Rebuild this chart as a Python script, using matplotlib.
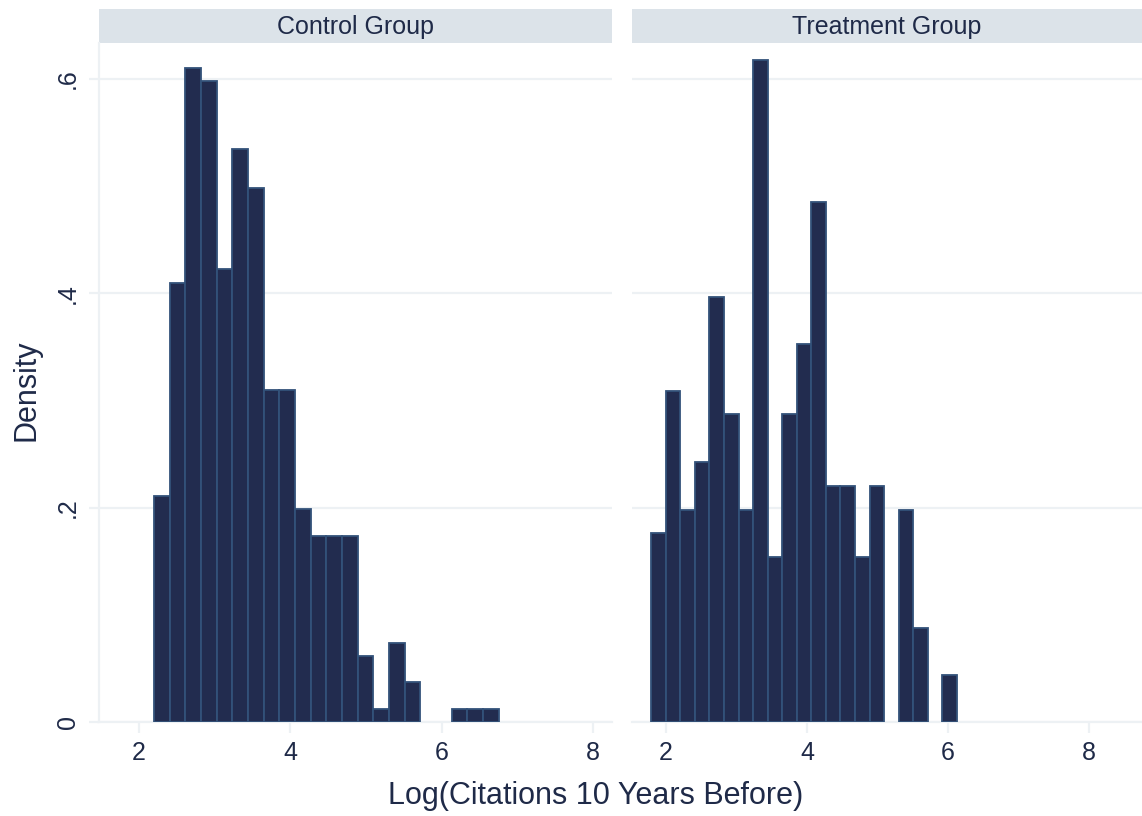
import numpy as np
import matplotlib
matplotlib.use("Agg")
from matplotlib import pyplot as plt
from matplotlib.patches import Rectangle

plt.rcParams['font.family'] = ['Liberation Sans', 'DejaVu Sans']

# densities
ctrl_start = 2.20
ctrl_width = 0.207
ctrl_density = [0.211, 0.410, 0.610, 0.598, 0.423, 0.535, 0.498, 0.310, 0.310,
                0.199, 0.174, 0.174, 0.174, 0.062, 0.012, 0.074, 0.037,
                0.0, 0.0, 0.012, 0.012, 0.012]

treat_start = 1.79
treat_width = 0.2065
treat_density = [0.176, 0.309, 0.198, 0.243, 0.397, 0.287, 0.198, 0.618, 0.154,
                 0.287, 0.353, 0.485, 0.220, 0.220, 0.154, 0.220, 0.0,
                 0.198, 0.088, 0.0, 0.044]

panel_titles = ["Control Group", "Treatment Group"]
y_ticks = [0, 0.2, 0.4, 0.6]
y_ticklabels = ["0", ".2", ".4", ".6"]
x_ticks = [2, 4, 6, 8]

bar_fill = "#222c4f"
bar_edge = "#33527a"
grid_col = "#edf1f4"
head_col = "#dce3e9"
txt_col = "#1f2a48"

W, H = 1142, 816
fig = plt.figure(figsize=(W / 100, H / 100), dpi=100)


def fx(px):
    return px / W


def fy(px):
    return 1 - px / H


top, bot = 43, 722
ax1 = fig.add_axes([fx(99), fy(bot), fx(612 - 99), fy(top) - fy(bot)])
ax2 = fig.add_axes([fx(632), fy(bot), fx(1142 - 632), fy(top) - fy(bot)])

panels = [
    (ax1, ctrl_start, ctrl_width, ctrl_density, (1.472, 8.25)),
    (ax2, treat_start, treat_width, treat_density, (1.518, 8.752)),
]

for i, (ax, start, w, dens, xl) in enumerate(panels):
    dens = np.array(dens)
    left = start + w * np.arange(len(dens))
    m = dens > 0
    ax.bar(left[m], dens[m], width=w, align='edge', color=bar_fill,
           edgecolor=bar_edge, linewidth=1.3, zorder=3)
    ax.set_xlim(*xl)
    ax.set_ylim(0, 0.6336)
    ax.set_yticks(y_ticks)
    ax.set_xticks(x_ticks)
    ax.set_xticklabels([str(t) for t in x_ticks])
    ax.grid(axis='y', color=grid_col, linewidth=1.6, zorder=0)
    for s in ['top', 'right']:
        ax.spines[s].set_visible(False)
    ax.spines['bottom'].set_color(grid_col)
    ax.spines['bottom'].set_linewidth(1.6)
    ax.spines['left'].set_color(grid_col)
    ax.spines['left'].set_linewidth(1.6)
    ax.tick_params(axis='x', colors=grid_col, length=8, width=1.6,
                   labelcolor=txt_col, labelsize=18, pad=6)
    ax.tick_params(axis='y', colors=grid_col, length=7, width=1.6,
                   labelcolor=txt_col, labelsize=18, pad=7)
    if i == 0:
        ax.set_yticklabels(y_ticklabels, rotation=90, va='center')
    else:
        ax.spines['left'].set_visible(False)
        ax.tick_params(axis='y', left=False, labelleft=False)
    # strip header
    hh = 34 / (bot - top)
    ax.add_patch(Rectangle((0, 1), 1, hh, transform=ax.transAxes,
                           facecolor=head_col, edgecolor='none', clip_on=False))
    ax.text(0.5, 1 + hh / 2 - 0.002, panel_titles[i], transform=ax.transAxes,
            ha='center', va='center', fontsize=18, color=txt_col)

fig.text(fx(27), fy(390), "Density", rotation=90, ha='center', va='center',
         fontsize=22, color=txt_col)
fig.text(fx(596), fy(796), "Log(Citations 10 Years Before)", ha='center',
         va='center', fontsize=22, color=txt_col)

fig.savefig("out.png", dpi=100, facecolor='white')
